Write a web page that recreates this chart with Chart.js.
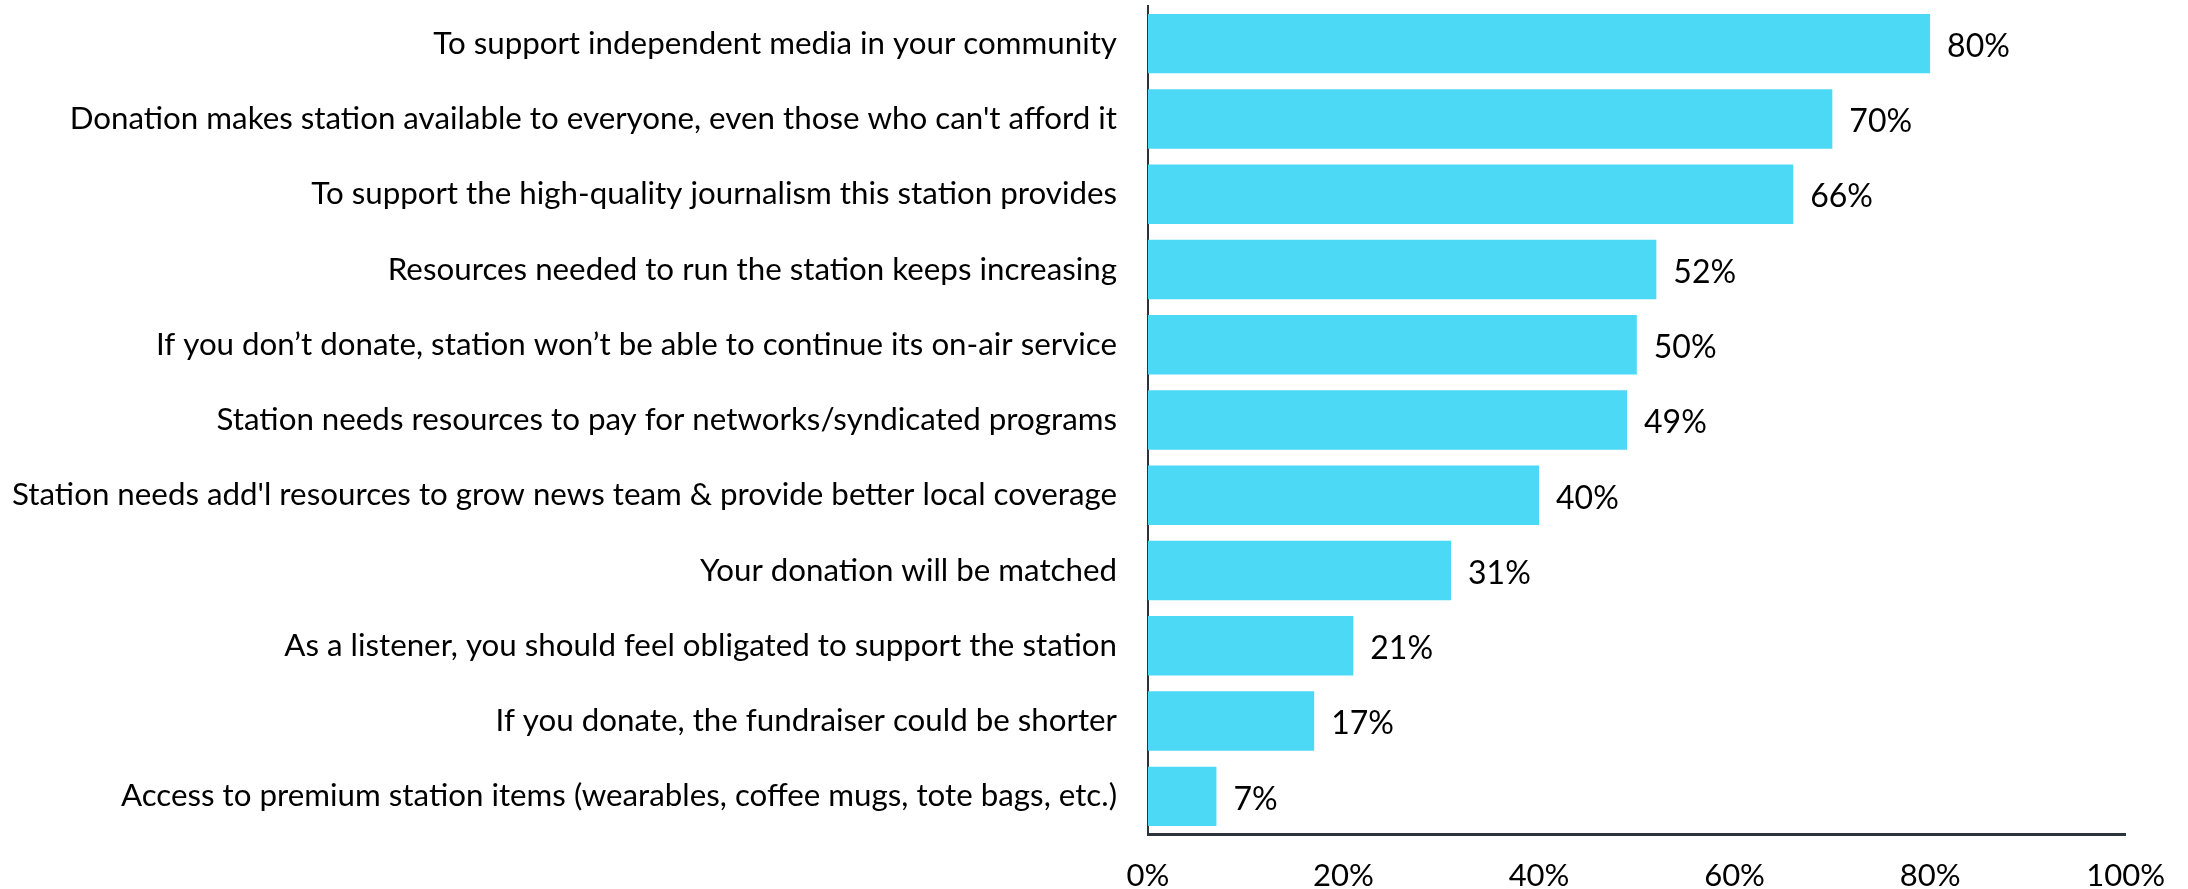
<!DOCTYPE html>
<html>
<head>
<meta charset="utf-8">
<script src="https://cdn.jsdelivr.net/npm/chart.js@4.4.1/dist/chart.umd.min.js"></script>
<style>
  html, body { margin: 0; padding: 0; background: #fff; }
  #wrap { width: 2188px; height: 889px; }
</style>
</head>
<body>
<div id="wrap"><canvas id="chart"></canvas></div>
<script>
const reasons = [
  "To support independent media in your community",
  "Donation makes station available to everyone, even those who can't afford it",
  "To support the high-quality journalism this station provides",
  "Resources needed to run the station keeps increasing",
  "If you don\u2019t donate, station won\u2019t be able to continue its on-air service",
  "Station needs resources to pay for networks/syndicated programs",
  "Station needs add'l resources to grow news team & provide better local coverage",
  "Your donation will be matched",
  "As a listener, you should feel obligated to support the station",
  "If you donate, the fundraiser could be shorter",
  "Access to premium station items (wearables, coffee mugs, tote bags, etc.)"
]
const shares = [80, 70, 66, 52, 50, 49, 40, 31, 21, 17, 7]
const xTicks = [0, 20, 40, 60, 80, 100]

const FONT = "Lato, 'Open Sans', sans-serif"

// percent labels at the end of each bar
const valueLabels = {
  id: "valueLabels",
  afterDatasetsDraw(chart) {
    const ctx = chart.ctx
    const meta = chart.getDatasetMeta(0)
    ctx.save()
    ctx.font = "32px " + FONT
    ctx.fillStyle = "#000"
    ctx.textAlign = "left"
    ctx.textBaseline = "middle"
    meta.data.forEach((bar, i) => {
      ctx.fillText(shares[i] + "%", bar.x + 17, bar.y + 3)
    })
    ctx.restore()
  }
}

new Chart(document.getElementById("chart"), {
  type: "bar",
  data: {
    labels: reasons,
    datasets: [{
      data: shares,
      backgroundColor: "#4CD9F5",
      borderWidth: 0,
      categoryPercentage: 0.79,
      barPercentage: 1.0
    }]
  },
  plugins: [valueLabels],
  options: {
    indexAxis: "y",
    responsive: true,
    maintainAspectRatio: false,
    animation: false,
    layout: { padding: { top: 6, right: 60, left: 0, bottom: 0 } },
    plugins: {
      legend: { display: false },
      tooltip: { enabled: false }
    },
    scales: {
      x: {
        min: 0,
        max: 100,
        afterBuildTicks(scale) {
          scale.ticks = xTicks.map(v => ({ value: v }))
        },
        grid: { display: false, drawTicks: false },
        border: { display: true, color: "#2b333b", width: 3 },
        ticks: {
          color: "#000",
          padding: 23,
          font: { family: FONT, size: 31 },
          callback: v => v + "%"
        },
        afterFit(scale) { scale.height = 55 }
      },
      y: {
        grid: { display: false, drawTicks: false },
        border: { display: true, color: "#2b333b", width: 2 },
        ticks: {
          color: "#000",
          padding: 31,
          font: { family: FONT, size: 31.3 }
        },
        afterFit(scale) {
          scale.width = 1148
          // labels sit inside their bands, no extra room needed above/below
          scale.paddingTop = 0
          scale.paddingBottom = 0
        }
      }
    }
  }
})
</script>
</body>
</html>
